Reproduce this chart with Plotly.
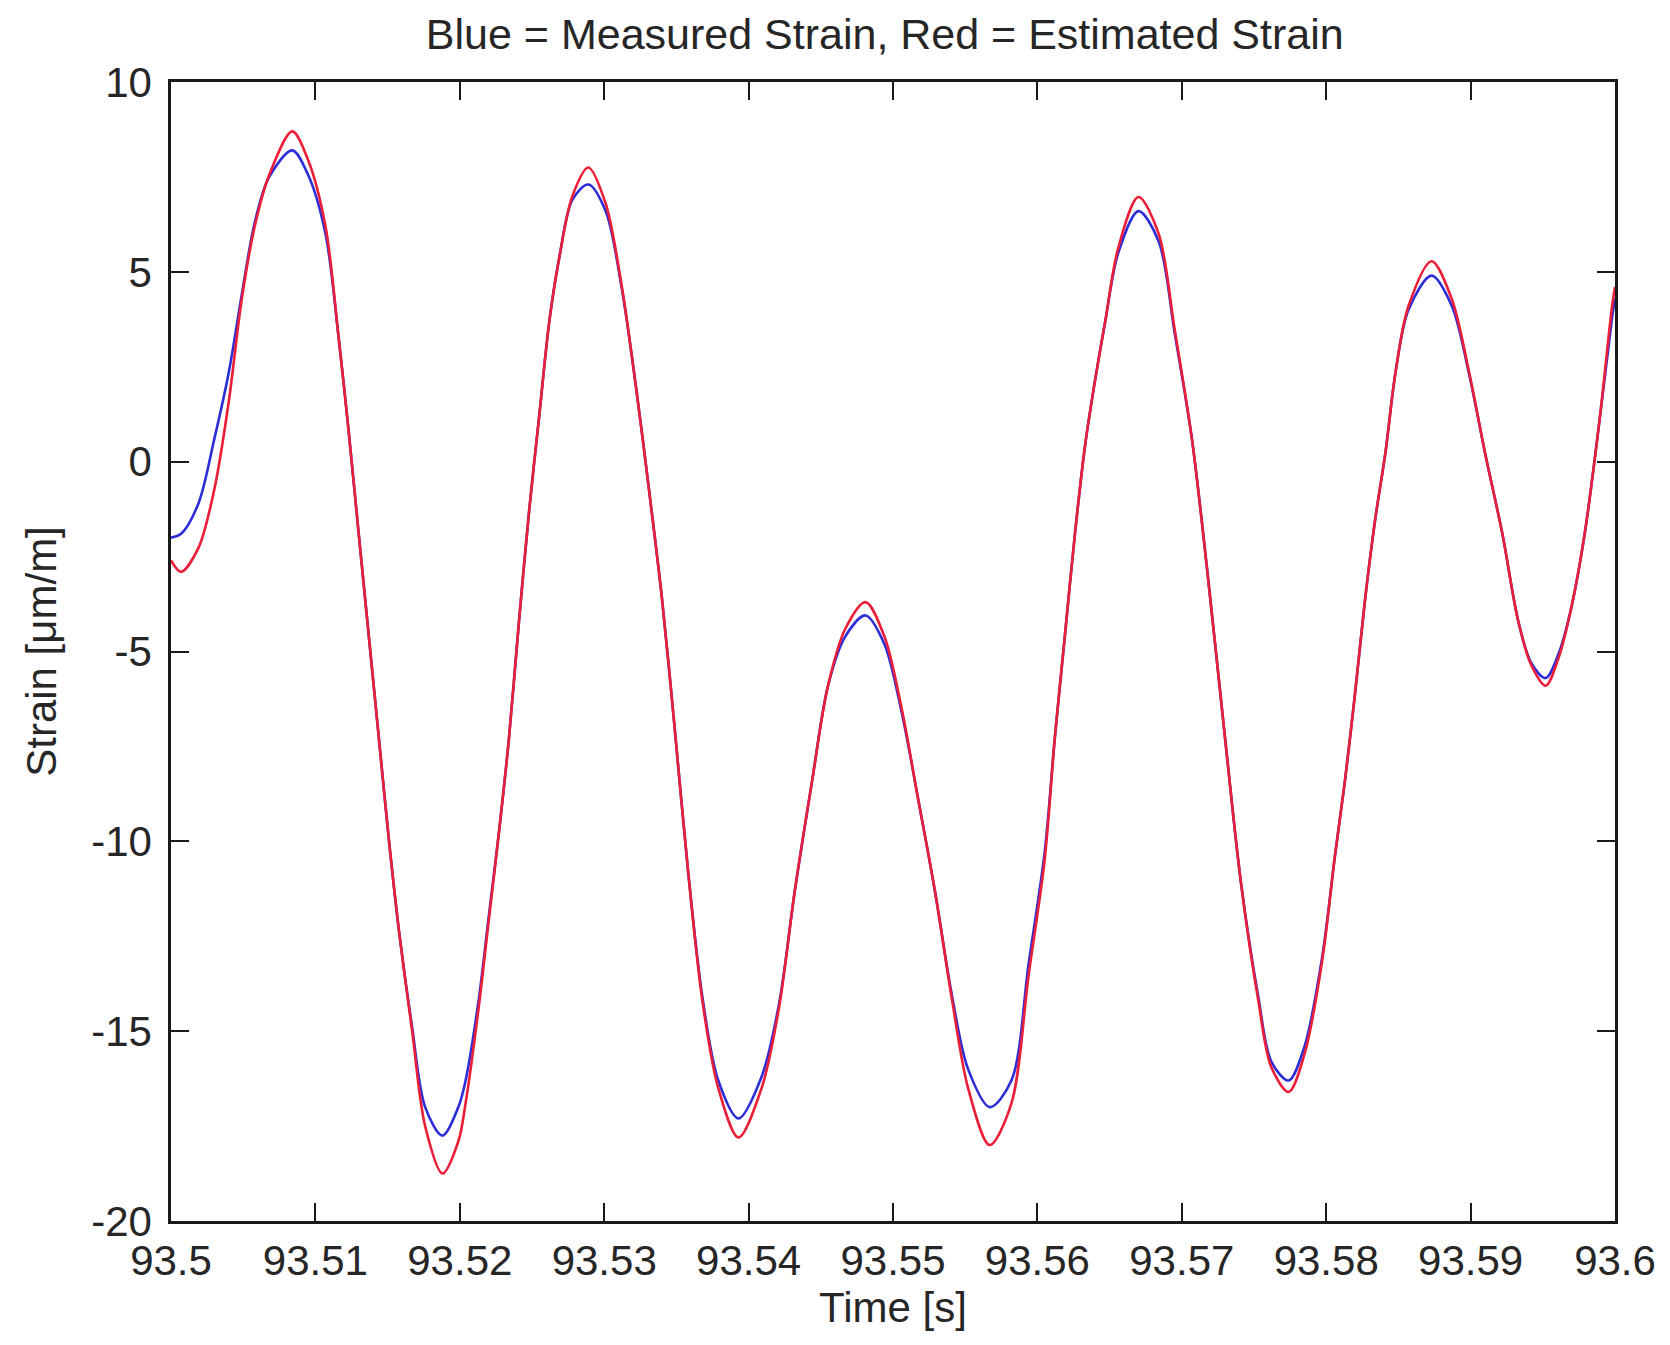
import plotly.graph_objects as go

# Sample times (s)
time_s = [
    93.5000, 93.5007, 93.5019, 93.5030, 93.5040, 93.5049, 93.5058, 93.5068, 93.5084, 93.5095,
    93.5107, 93.5116, 93.5123, 93.5130, 93.5137, 93.5144, 93.5151, 93.5158, 93.5167, 93.5176,
    93.5188, 93.5199, 93.5204, 93.5213, 93.5220, 93.5227, 93.5234, 93.5241, 93.5248, 93.5255,
    93.5262, 93.5269, 93.5278, 93.5289, 93.5301, 93.5312, 93.5322, 93.5331, 93.5340, 93.5349,
    93.5358, 93.5368, 93.5379, 93.5393, 93.5409, 93.5421, 93.5432, 93.5444, 93.5455, 93.5467,
    93.5481, 93.5494, 93.5506, 93.5517, 93.5529, 93.5541, 93.5552, 93.5567, 93.5582, 93.5594,
    93.5605, 93.5612, 93.5619, 93.5626, 93.5633, 93.5640, 93.5647, 93.5656, 93.5670, 93.5684,
    93.5695, 93.5707, 93.5718, 93.5730, 93.5741, 93.5753, 93.5762, 93.5774, 93.5785, 93.5797,
    93.5806, 93.5813, 93.5820, 93.5827, 93.5834, 93.5841, 93.5848, 93.5857, 93.5873, 93.5887,
    93.5899, 93.5910, 93.5922, 93.5933, 93.5942, 93.5952, 93.5961, 93.5970, 93.5979, 93.5989,
    93.5998, 93.6000,
]

# Measured strain (blue), micro-strain
measured = [
    -2.0, -1.9, -1.1, 0.6, 2.35, 4.4, 6.3, 7.5, 8.2, 7.55,
    6.0, 3.3, 0.81, -1.9, -4.6, -7.3, -10.0, -12.4, -14.9, -17.0,
    -17.75, -17.0, -16.3, -14.2, -12.0, -9.8, -7.3, -4.2, -1.3, 1.2,
    3.7, 5.4, 6.9, 7.3, 6.6, 4.6, 1.97, -0.73, -3.6, -7.1,
    -10.75, -14.1, -16.3, -17.3, -16.2, -14.3, -11.3, -8.4, -5.9, -4.6,
    -4.05, -4.8, -6.6, -8.8, -11.3, -14.1, -16.0, -17.0, -16.3, -13.2,
    -10.3, -7.3, -4.6, -1.9, 0.42, 2.16, 3.7, 5.5, 6.6, 5.8,
    3.4, 0.6, -3.0, -7.3, -11.1, -14.1, -15.8, -16.3, -15.4, -13.1,
    -10.4, -8.4, -6.1, -3.6, -1.5, 0.23, 2.35, 4.0, 4.9, 4.1,
    2.3, 0.23, -1.9, -4.2, -5.3, -5.7, -5.05, -3.8, -1.9, 1.0,
    3.8, 4.3,
]

# Estimated strain (red), micro-strain
estimated = [
    -2.6, -2.9, -2.27, -0.73, 1.58, 4.28, 6.2, 7.55, 8.7, 7.94,
    6.2, 3.3, 0.81, -1.9, -4.6, -7.3, -10.0, -12.4, -15.0, -17.5,
    -18.75, -17.9, -16.9, -14.4, -12.1, -9.8, -7.3, -4.2, -1.3, 1.2,
    3.7, 5.4, 7.0, 7.75, 6.8, 4.66, 1.97, -0.73, -3.6, -7.1,
    -10.75, -14.2, -16.5, -17.8, -16.5, -14.4, -11.3, -8.4, -5.9, -4.4,
    -3.7, -4.6, -6.5, -8.8, -11.3, -14.2, -16.5, -18.0, -16.9, -13.5,
    -10.5, -7.3, -4.6, -1.9, 0.42, 2.16, 3.7, 5.63, 6.97, 6.0,
    3.5, 0.6, -3.0, -7.3, -11.1, -14.2, -15.95, -16.6, -15.6, -13.2,
    -10.4, -8.4, -6.1, -3.6, -1.5, 0.23, 2.35, 4.1, 5.28, 4.28,
    2.35, 0.23, -1.9, -4.2, -5.36, -5.9, -5.16, -3.8, -1.9, 1.0,
    4.1, 4.6,
]

x_tick_vals = [93.5, 93.51, 93.52, 93.53, 93.54, 93.55, 93.56, 93.57, 93.58, 93.59, 93.6]
x_tick_text = ["93.5", "93.51", "93.52", "93.53", "93.54", "93.55", "93.56", "93.57", "93.58", "93.59", "93.6"]
y_tick_vals = [-20, -15, -10, -5, 0, 5, 10]
y_tick_text = ["-20", "-15", "-10", "-5", "0", "5", "10"]

FONT = "Liberation Sans, Arial, sans-serif"
TXT = "#262626"

fig = go.Figure()
fig.add_trace(go.Scatter(x=time_s, y=measured, mode="lines",
                         line=dict(color="rgb(45,45,215)", width=2.6, shape="spline", smoothing=0.9),
                         name="Measured", showlegend=False))
fig.add_trace(go.Scatter(x=time_s, y=estimated, mode="lines",
                         line=dict(color="rgb(235,30,55)", width=2.6, shape="spline", smoothing=0.9),
                         name="Estimated", showlegend=False))

axis_common = dict(
    showgrid=False, zeroline=False, showline=True, linecolor="#1a1a1a", linewidth=2.5,
    mirror="ticks", ticks="inside", ticklen=18, tickwidth=2, tickcolor="#1a1a1a",
    tickfont=dict(family=FONT, size=42, color=TXT),
)

fig.update_layout(
    width=1670, height=1345,
    margin=dict(l=163, r=63, t=74, b=132, autoexpand=False),
    paper_bgcolor="white", plot_bgcolor="white",
    title=dict(text="Blue = Measured Strain, Red = Estimated Strain", x=0.525, xanchor="center",
               y=1 - 26 / 1345, yanchor="middle", font=dict(family=FONT, size=43, color=TXT)),
    xaxis=dict(range=[93.5, 93.6], tickvals=x_tick_vals, ticktext=x_tick_text,
               title=dict(text="Time [s]", font=dict(family=FONT, size=42, color=TXT), standoff=10),
               ticklabelstandoff=1, automargin=False, **axis_common),
    yaxis=dict(range=[-20, 10], tickvals=y_tick_vals, ticktext=y_tick_text,
               title=dict(text="Strain [μm/m]", font=dict(family=FONT, size=42, color=TXT), standoff=22),
               ticklabelstandoff=8, automargin=False, **axis_common),
)

fig.write_html("out.html")
